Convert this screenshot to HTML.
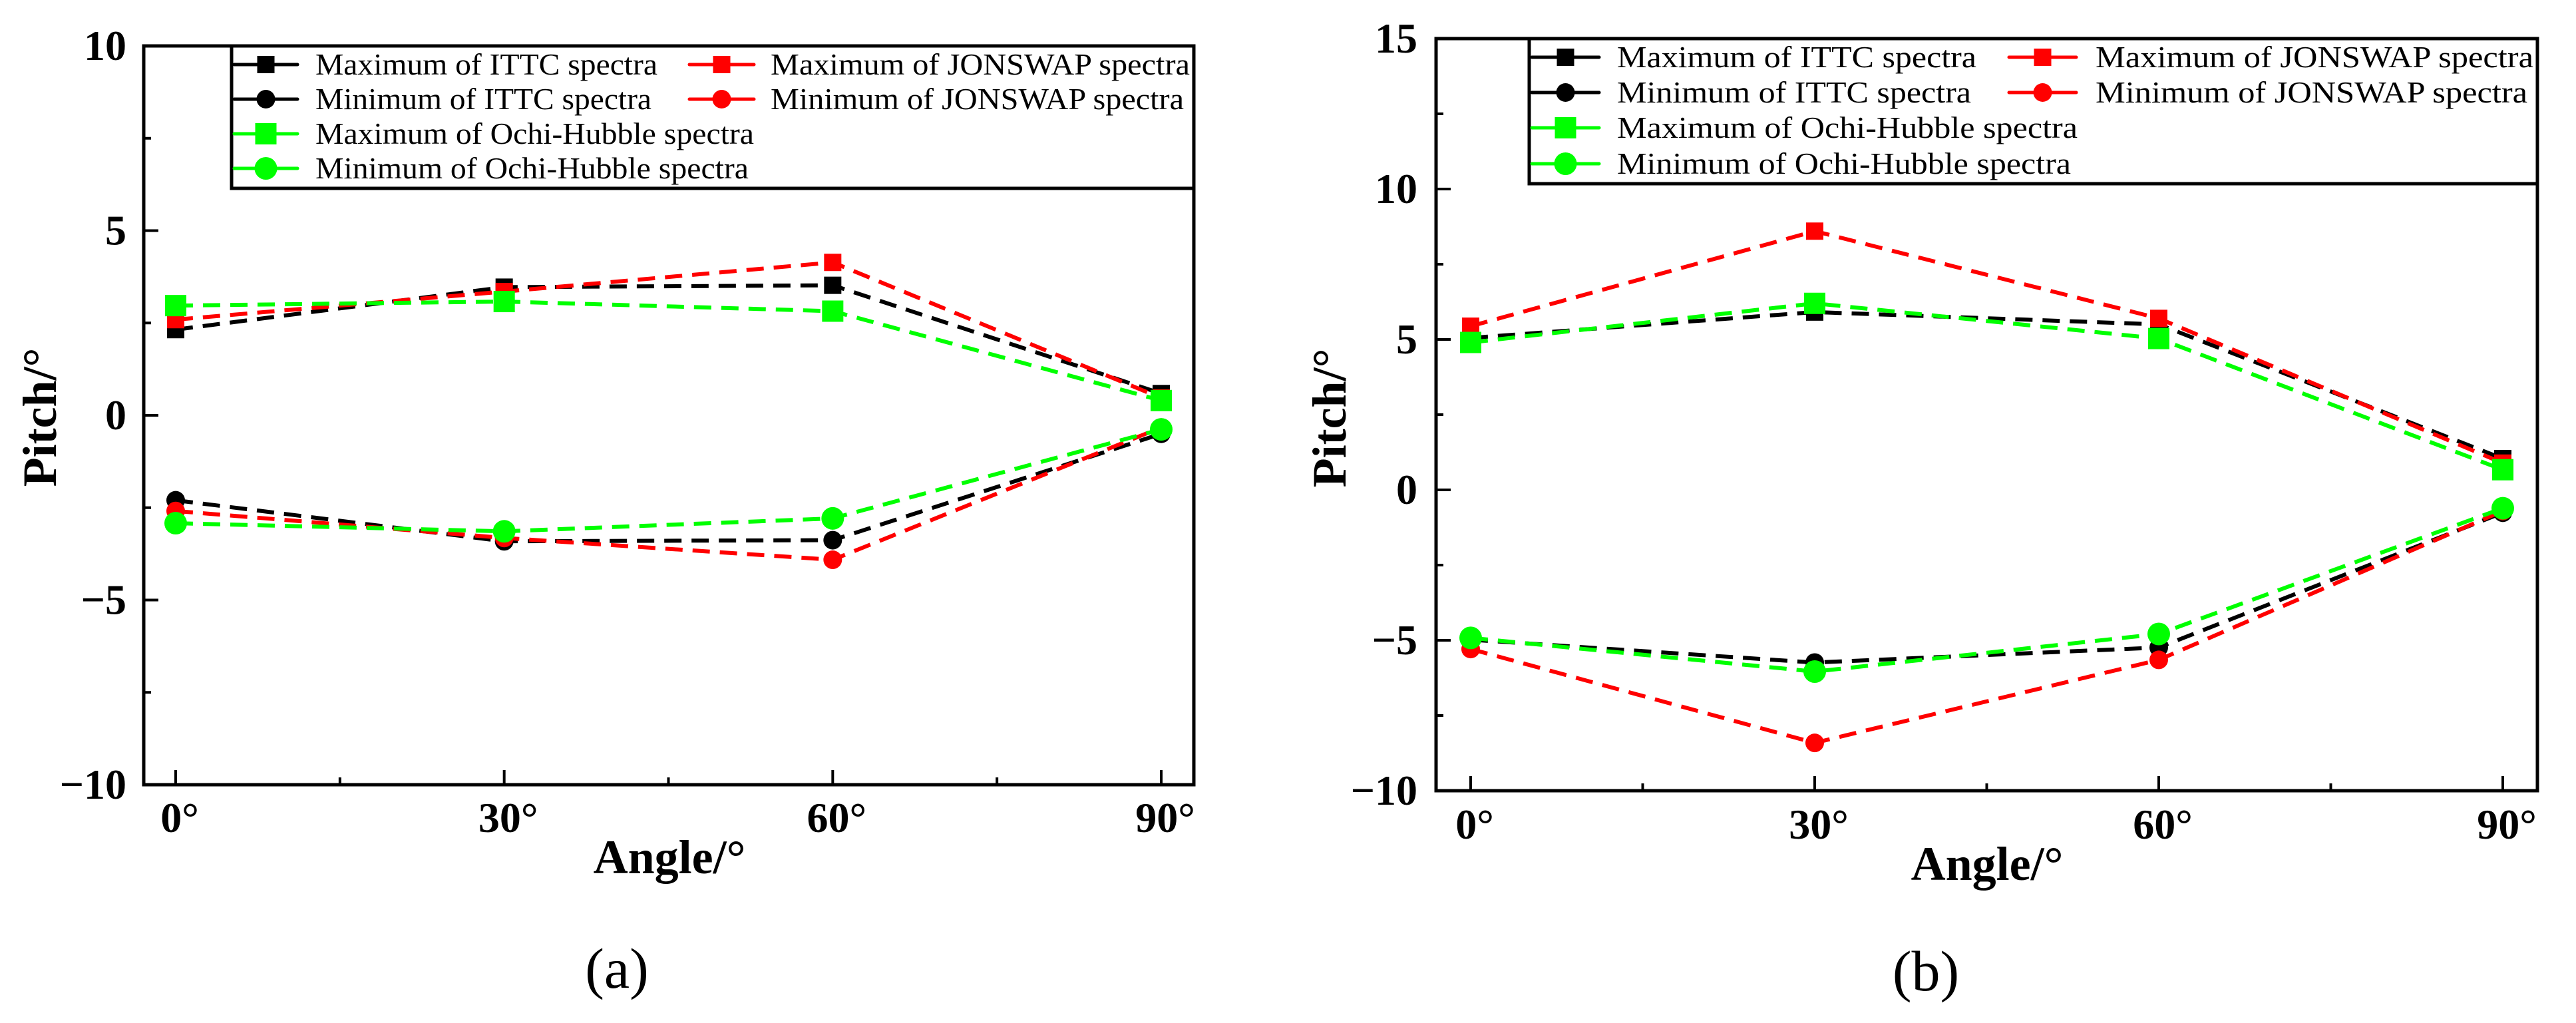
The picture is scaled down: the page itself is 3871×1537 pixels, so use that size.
<!DOCTYPE html>
<html><head><meta charset="utf-8"><style>
html,body{margin:0;padding:0;background:#fff}
svg{display:block}
text{font-family:"Liberation Serif",serif}
</style></head><body>
<svg id="fig" width="3871" height="1537" viewBox="0 0 3871 1537" xmlns="http://www.w3.org/2000/svg"></svg>
<script>
const categories = ["0°","30°","60°","90°"];
const angles = [0,30,60,90];
const seriesNames = ["Maximum of ITTC spectra","Minimum of ITTC spectra","Maximum of Ochi-Hubble spectra","Minimum of Ochi-Hubble spectra","Maximum of JONSWAP spectra","Minimum of JONSWAP spectra"];
const aIttcMax = [2.32,3.47,3.52,0.59];
const aIttcMin = [-2.30,-3.41,-3.38,-0.50];
const aOhMax = [2.97,3.08,2.82,0.40];
const aOhMin = [-2.92,-3.14,-2.79,-0.38];
const aJonMax = [2.59,3.35,4.14,0.47];
const aJonMin = [-2.59,-3.32,-3.91,-0.33];
const bIttcMax = [5.05,5.91,5.50,1.04];
const bIttcMin = [-4.98,-5.74,-5.24,-0.76];
const bOhMax = [4.90,6.20,5.03,0.67];
const bOhMin = [-4.92,-6.04,-4.79,-0.61];
const bJonMax = [5.44,8.60,5.70,0.89];
const bJonMin = [-5.29,-8.41,-5.65,-0.70];
const aYTicks = [10,5,0,-5,-10];
const bYTicks = [15,10,5,0,-5,-10];

const NS="http://www.w3.org/2000/svg";
const svg=document.getElementById('fig');
function el(tag,attrs,parent,txt){const e=document.createElementNS(NS,tag);for(const k in attrs)e.setAttribute(k,attrs[k]);if(txt!==undefined)e.textContent=txt;(parent||svg).appendChild(e);return e;}

function panel(cfg){
  const g=el('g',{});
  
  
  const X=v=>cfg.x0+(v-0)/(90)*(cfg.x90-cfg.x0);
  const Y=v=>cfg.top+(cfg.ymax-v)/(cfg.ymax-cfg.ymin)*(cfg.bot-cfg.top);
  const fr=el('rect',{x:cfg.left,y:cfg.top,width:cfg.right-cfg.left,height:cfg.bot-cfg.top,fill:'none',stroke:'#000','stroke-width':5},g);
  
  
  for(let v=cfg.ymin; v<=cfg.ymax; v+=2.5){
    const major=Math.abs(v%5)<1e-6;
    el('line',{x1:cfg.left,x2:cfg.left+(major?22:11),y1:Y(v),y2:Y(v),stroke:'#000','stroke-width':4},g);
  }
  cfg.yticks.forEach(v=>{
    const t=el('text',{x:cfg.ylabR,y:Y(v)+21,'text-anchor':'end','font-size':64,'font-weight':'bold'},g,(v<0?'\u2212':'')+Math.abs(v));
    
    
  });
  for(let a=0;a<=90;a+=15){
    const major=a%30===0;
    el('line',{x1:X(a),x2:X(a),y1:cfg.bot,y2:cfg.bot-(major?22:11),stroke:'#000','stroke-width':4},g);
  }
  categories.forEach((c,i)=>{
    const t=el('text',{x:X(angles[i])+6,y:cfg.xlabY,'text-anchor':'middle','font-size':64,'font-weight':'bold'},g,c);
    
    
  });
  const xt=el('text',{x:cfg.xtX,y:cfg.xtY,'text-anchor':'middle','font-size':72,'font-weight':'bold'},g,'Angle/°');
  
  
  const yt=el('text',{x:0,y:0,'text-anchor':'middle','font-size':72,'font-weight':'bold',transform:`translate(${cfg.ytX},${cfg.ytY}) rotate(-90)`},g,'Pitch/°');
  
  
  const cap=el('text',{x:cfg.capX,y:cfg.capY,'text-anchor':'middle','font-size':86},g,cfg.cap);
  
  

  const styles=[
    {c:'#000',m:'sq',s:26},{c:'#000',m:'ci',s:14},
    {c:'#00ff00',m:'sq',s:32},{c:'#00ff00',m:'ci',s:17},
    {c:'#ff0000',m:'sq',s:26},{c:'#ff0000',m:'ci',s:14}];
  const order=[0,1,4,5,2,3];
  function marker(st,x,y,parent){
    let m;
    if(st.m==='sq') m=el('rect',{x:x-st.s/2,y:y-st.s/2,width:st.s,height:st.s,fill:st.c},parent);
    else m=el('circle',{cx:x,cy:y,r:st.s,fill:st.c},parent);
    return m;
  }
  order.forEach(i=>{
    const st=styles[i], vals=cfg.series[i];
    const sg=el('g',{},g);
    
    
    const pts=vals.map((v,k)=>X(angles[k])+','+Y(v)).join(' ');
    const pl=el('polyline',{points:pts,fill:'none',stroke:st.c,'stroke-width':6,'stroke-dasharray':'26 15'},sg);
    
    
    vals.forEach((v,k)=>{
      const m=marker(st,X(angles[k]),Y(v),sg);
      
      
    });
  });
  const lg=el('g',{},g);
  
  
  el('rect',{x:cfg.lgL,y:cfg.top,width:cfg.right-cfg.lgL,height:cfg.lgB-cfg.top,fill:'#fff',stroke:'#000','stroke-width':5},lg);
  const pos=[[0,0],[0,1],[0,2],[0,3],[1,0],[1,1]];
  [0,1,2,3,4,5].forEach(i=>{
    const [col,row]=pos[i]; const st=styles[i];
    const y=cfg.rows[row];
    const lx1=col?cfg.c2L1:cfg.c1L1, lx2=col?cfg.c2L2:cfg.c1L2, tx=col?cfg.c2T:cfg.c1T;
    const e=el('g',{},lg);
    
    
    el('line',{x1:lx1,x2:lx2,y1:y,y2:y,stroke:st.c,'stroke-width':5,'stroke-linecap':'round'},e);
    marker(st,(lx1+lx2)/2,y,e);
    el('text',{x:tx,y:y+15,'font-size':46,textLength:cfg.tl[i],lengthAdjust:'spacingAndGlyphs'},e,seriesNames[i]);
  });
}

panel({name:'panel-a',left:216,right:1794,top:69,bot:1179,x0:264,x90:1745,ymin:-10,ymax:10,
  yticks:aYTicks,ylabR:190,xlabY:1250,xtX:1006,xtY:1312,ytX:84,ytY:627,capX:927,capY:1484,cap:'(a)',
  series:[aIttcMax,aIttcMin,aOhMax,aOhMin,aJonMax,aJonMin],
  lgL:348,lgB:283,rows:[97,149,201,253],c1L1:352,c1L2:447,c1T:474,c2L1:1036,c2L2:1133,c2T:1158,
  tl:[514,505,659,651,630,621]});
panel({name:'panel-b',left:2158,right:3813,top:58,bot:1188,x0:2210,x90:3761,ymin:-10,ymax:15,
  yticks:bYTicks,ylabR:2130,xlabY:1260,xtX:2986,xtY:1322,ytX:2022,ytY:628,capX:2894,capY:1488,cap:'(b)',
  series:[bIttcMax,bIttcMin,bOhMax,bOhMin,bJonMax,bJonMin],
  lgL:2298,lgB:276,rows:[86,139,192,246],c1L1:2302,c1L2:2403,c1T:2430,c2L1:3019,c2L2:3120,c2T:3149,
  tl:[540,532,692,682,658,649]});
</script>
</body></html>
